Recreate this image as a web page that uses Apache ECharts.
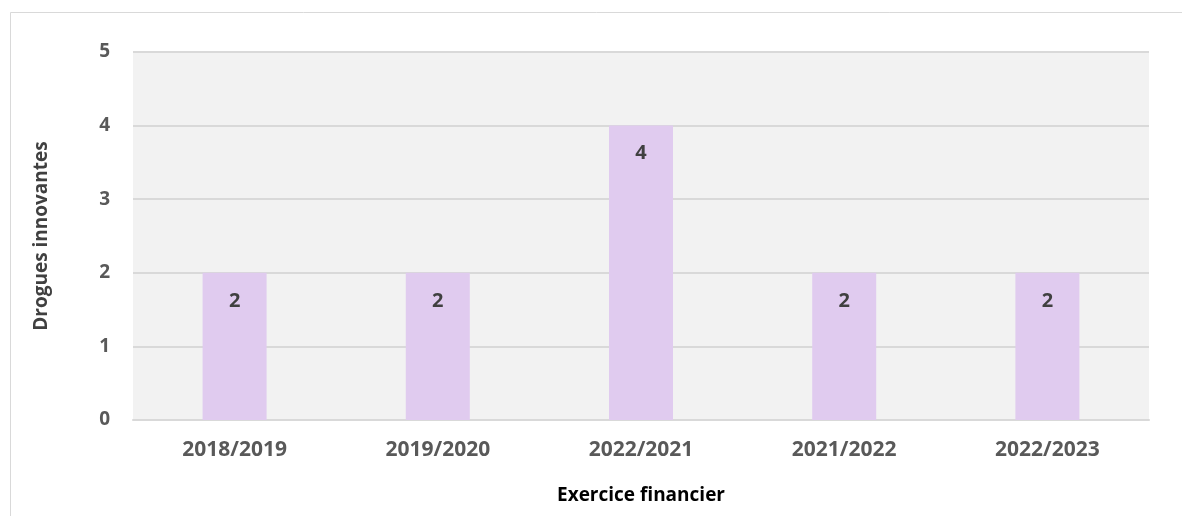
<!DOCTYPE html>
<html>
<head>
<meta charset="utf-8">
<script src="https://cdn.jsdelivr.net/npm/echarts@6/dist/echarts.min.js"></script>
<style>
  html, body { margin: 0; padding: 0; background: #fff; }
  #chart { width: 1182px; height: 516px; }
</style>
</head>
<body>
<div id="chart"></div>
<script>
const categories = ['2018/2019', '2019/2020', '2022/2021', '2021/2022', '2022/2023']
const drugCounts = [2, 2, 4, 2, 2]
const yTicks = [0, 1, 2, 3, 4, 5]

const FONT = '"Open Sans", sans-serif'

const chart = echarts.init(document.getElementById('chart'), null, { renderer: 'canvas' })

chart.setOption({
  animation: false,
  backgroundColor: '#ffffff',
  graphic: [{
    type: 'rect',
    shape: { x: 10.5, y: 12.5, width: 1200, height: 600 },
    style: { fill: 'none', stroke: '#d9d9d9', lineWidth: 1 },
    silent: true
  }],
  grid: {
    left: 133, right: 33, top: 52, bottom: 96,
    show: true,
    backgroundColor: '#f2f2f2',
    borderWidth: 0
  },
  xAxis: {
    type: 'category',
    data: categories,
    name: 'Exercice financier',
    nameLocation: 'middle',
    nameGap: 66,
    nameTextStyle: { color: '#000', fontFamily: FONT, fontWeight: 'bold', fontSize: 19 },
    axisLine: { lineStyle: { color: '#d9d9d9', width: 2 } },
    axisTick: { show: false },
    axisLabel: { color: '#595959', fontFamily: FONT, fontWeight: 'bold', fontSize: 21, margin: 20 }
  },
  yAxis: {
    type: 'value',
    min: yTicks[0],
    max: yTicks[yTicks.length - 1],
    interval: 1,
    name: 'Drogues innovantes',
    nameLocation: 'middle',
    nameGap: 82,
    nameRotate: 90,
    nameTextStyle: { color: '#404040', fontFamily: FONT, fontWeight: 'bold', fontSize: 19 },
    axisLine: { show: false },
    axisTick: { show: false },
    axisLabel: { color: '#595959', fontFamily: FONT, fontWeight: 'bold', fontSize: 19, margin: 23 },
    splitLine: { lineStyle: { color: '#d9d9d9', width: 2 } }
  },
  series: [{
    type: 'bar',
    data: drugCounts,
    barWidth: '31.5%',
    itemStyle: { color: '#e0cbef' },
    label: {
      show: true,
      position: 'insideTop',
      distance: 18,
      color: '#404040',
      fontFamily: FONT,
      fontWeight: 'bold',
      fontSize: 20
    }
  }]
})
</script>
</body>
</html>
